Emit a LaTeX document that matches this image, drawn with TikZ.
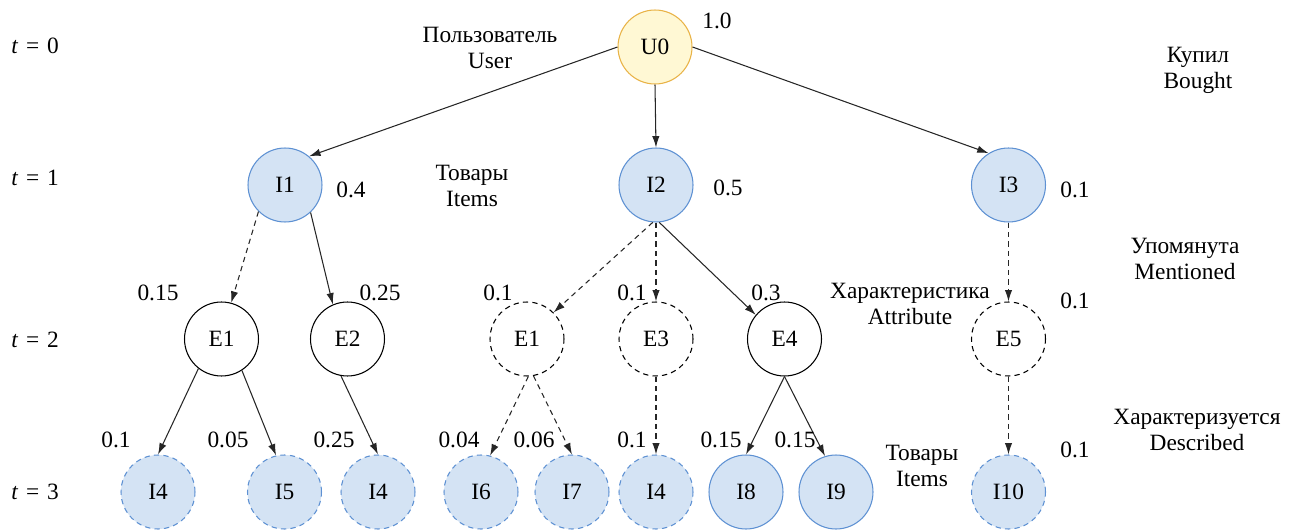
\documentclass[tikz,border=0pt]{standalone}
\usepackage{fontspec}
\setmainfont{Liberation Serif}
\usetikzlibrary{arrows.meta}
\definecolor{ufill}{HTML}{FFF8D4}
\definecolor{udraw}{HTML}{E9B347}
\definecolor{ifill}{HTML}{D4E3F4}
\definecolor{idraw}{HTML}{5E91D3}
\begin{document}
\begin{tikzpicture}[x=0.02cm,y=-0.02cm,
  font=\fontsize{13.3pt}{14.7pt}\selectfont,
  nd/.style={circle,minimum size=1.48cm,inner sep=0pt,line width=0.6pt},
  usr/.style={nd,fill=ufill,draw=udraw},
  itm/.style={nd,fill=ifill,draw=idraw},
  itmd/.style={itm,dash pattern=on 3pt off 2.4pt},
  ent/.style={nd,draw=black},
  entd/.style={ent,dash pattern=on 3pt off 2.4pt},
  lbl/.style={align=center,inner sep=0pt},
  arr/.style={-{Latex[length=6.5pt,width=4.2pt]},line width=0.6pt,draw=black!85},
  darr/.style={arr,dash pattern=on 3pt off 2.4pt}]
\useasboundingbox (0,0) rectangle (1296,531);
% nodes
\node[usr] (U0) at (655,47) {U0};
\node[itm] (I1) at (285,185) {I1};
\node[itm] (I2) at (656,185) {I2};
\node[itm] (I3) at (1008.5,185) {I3};
\node[ent] (E1) at (221.5,339) {E1};
\node[ent] (E2) at (347.5,339) {E2};
\node[entd] (E1b) at (527,339) {E1};
\node[entd] (E3) at (656,339) {E3};
\node[ent] (E4) at (784.5,339) {E4};
\node[entd] (E5) at (1008.5,339) {E5};
\node[itmd] (I4a) at (158,492) {I4};
\node[itmd] (I5) at (284.5,492) {I5};
\node[itmd] (I4b) at (378,492) {I4};
\node[itmd] (I6) at (481,492) {I6};
\node[itmd] (I7) at (572,492) {I7};
\node[itmd] (I4c) at (656,492) {I4};
\node[itm] (I8) at (746,492) {I8};
\node[itm] (I9) at (836,492) {I9};
\node[itmd] (I10) at (1008.5,492) {I10};
% edges
\draw[arr] (U0.west) -- (I1.50);
\draw[arr] (U0.south) -- (I2.north);
\draw[arr] (U0.east) -- (I3.122);
\draw[darr] (I1.225) -- (E1.75);
\draw[arr] (I1.-47) -- (E2.113);
\draw[darr] (I2.265) -- (E1b.45);
\draw[darr] (I2.south) -- (E3.north);
\draw[arr] (I2.275) -- (E4.140);
\draw[darr] (I3.south) -- (E5.north);
\draw[arr] (E1.232) -- (I4a.north);
\draw[arr] (E1.-57) -- (I5.103);
\draw[arr] (E2.-100) -- (I4b.north);
\draw[darr] (E1b.-88) -- (I6.76);
\draw[darr] (E1b.-80) -- (I7.north);
\draw[darr] (E3.south) -- (I4c.north);
\draw[arr] (E4.south) -- (I8.north);
\draw[arr] (E4.south) -- (I9.107);
\draw[darr] (E5.south) -- (I10.north);
% time labels
\node[lbl] (t0) at (35,46) {\textit{t}\,\,=\,\,0};
\node[lbl] (t1) at (35,178) {\textit{t}\,\,=\,\,1};
\node[lbl] (t2) at (35,340) {\textit{t}\,\,=\,\,2};
\node[lbl] (t3) at (35,492) {\textit{t}\,\,=\,\,3};
% category labels
\node[lbl] (lu) at (490,48) {Пользователь\\User};
\node[lbl] (lb) at (1198,70) {Купил\\Bought};
\node[lbl] (li) at (472,186) {Товары\\Items};
\node[lbl] (lm) at (1185,259) {Упомянута\\Mentioned};
\node[lbl] (la) at (910,304) {Характеристика\\Attribute};
\node[lbl] (ld) at (1197,430) {Характеризуется\\Described};
\node[lbl] (li2) at (922,466) {Товары\\Items};
% weights
\node[lbl] (w0) at (717,21) {1.0};
\node[lbl] (w1) at (351,190) {0.4};
\node[lbl] (w2) at (728,188) {0.5};
\node[lbl] (w3) at (1075,190) {0.1};
\node[lbl] (w4) at (158,293) {0.15};
\node[lbl] (w5) at (380,293) {0.25};
\node[lbl] (w6) at (498,293) {0.1};
\node[lbl] (w7) at (632,293) {0.1};
\node[lbl] (w8) at (766,293) {0.3};
\node[lbl] (w9) at (1075,301) {0.1};
\node[lbl] (w10) at (116,440) {0.1};
\node[lbl] (w11) at (228,440) {0.05};
\node[lbl] (w12) at (334,440) {0.25};
\node[lbl] (w13) at (459,440) {0.04};
\node[lbl] (w14) at (534,440) {0.06};
\node[lbl] (w15) at (632,440) {0.1};
\node[lbl] (w16) at (721,440) {0.15};
\node[lbl] (w17) at (795,440) {0.15};
\node[lbl] (w18) at (1075,450) {0.1};
\end{tikzpicture}
\end{document}
